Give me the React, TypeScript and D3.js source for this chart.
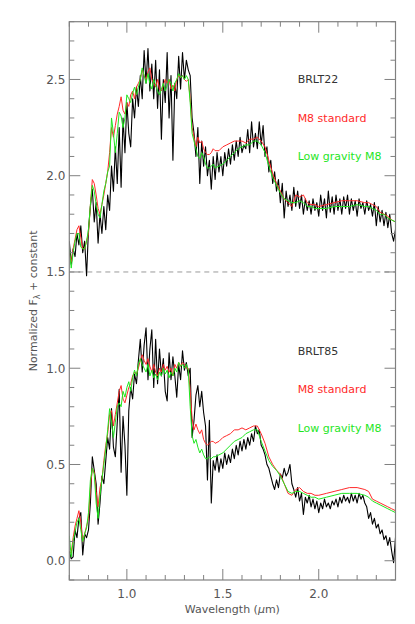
import React from "react";
import * as d3 from "d3";

// wavelength grids (microns)
const blackWave = d3.range(171).map((i) => +(0.7 + i * 0.01).toFixed(2));
const modelWave = [
  0.7, 0.71, 0.72, 0.73, 0.74, 0.75, 0.76, 0.77, 0.78, 0.79,
  0.8, 0.81, 0.82, 0.83, 0.84, 0.85, 0.86, 0.87, 0.88, 0.89,
  0.9, 0.91, 0.92, 0.93, 0.94, 0.95, 0.96, 0.97, 0.98, 0.99,
  1.0, 1.01, 1.02, 1.03, 1.04, 1.05, 1.06, 1.07, 1.08, 1.09,
  1.1, 1.11, 1.12, 1.13, 1.14, 1.15, 1.16, 1.17, 1.18, 1.19,
  1.2, 1.21, 1.22, 1.23, 1.24, 1.25, 1.26, 1.27, 1.28, 1.29,
  1.3, 1.31, 1.32, 1.33, 1.34, 1.35, 1.36, 1.37, 1.38, 1.39,
  1.4, 1.41, 1.42, 1.43, 1.44, 1.45, 1.46,
  1.48, 1.5, 1.52, 1.54, 1.56, 1.58, 1.6, 1.62, 1.64, 1.66, 1.68, 1.7, 1.72, 1.74,
  1.76, 1.78, 1.8, 1.82, 1.84, 1.86, 1.88, 1.9, 1.92, 1.94, 1.96, 1.98, 2.0,
  2.04, 2.08, 2.12, 2.16, 2.2, 2.24,
  2.26, 2.28, 2.3, 2.32, 2.34, 2.36, 2.38, 2.4,
];

// BRLT22 (top, +1.5)
const brlt22 = [
  1.66, 1.54, 1.62, 1.58, 1.7, 1.64, 1.74, 1.6, 1.66, 1.48,
  1.72, 1.84, 1.93, 1.76, 1.86, 1.65, 1.8, 1.7, 1.84, 1.72,
  1.9, 1.82, 2.05, 1.92, 2.15, 1.96, 2.25, 1.94, 2.3, 2.12,
  2.38, 2.22, 2.15, 2.4, 2.3, 2.46, 2.36, 2.52, 2.4, 2.65,
  2.48, 2.66, 2.44, 2.58, 2.4, 2.6, 2.35, 2.55, 2.19, 2.5,
  2.38, 2.64, 2.3, 2.52, 2.08, 2.48, 2.4, 2.62, 2.45, 2.64,
  2.5, 2.6, 2.55, 2.52, 2.3, 2.22, 2.1, 2.25, 1.96, 2.18,
  2.05, 2.15, 2.0, 2.08, 1.93, 2.1, 1.98, 2.12, 2.02, 2.1,
  2.0, 2.12, 2.05, 2.14, 2.06, 2.16, 2.08, 2.18, 2.1, 2.2,
  2.12, 2.16, 2.14, 2.24, 2.12, 2.28, 2.15, 2.22, 2.14, 2.28,
  2.16, 2.26, 2.1, 2.15, 2.02, 2.08, 1.96, 2.02, 1.92, 1.98,
  1.86, 1.96, 1.78, 1.92, 1.84, 1.9, 1.82, 1.94, 1.84, 1.92,
  1.83, 1.9, 1.8, 1.88, 1.82, 1.87, 1.8, 1.88, 1.82, 1.86,
  1.79, 1.9, 1.82, 1.88, 1.78, 1.92, 1.81, 1.89, 1.8, 1.9,
  1.82, 1.88, 1.8, 1.89, 1.83, 1.9, 1.8, 1.88, 1.82, 1.87,
  1.79, 1.88, 1.83, 1.86, 1.8, 1.87, 1.82, 1.85, 1.79, 1.86,
  1.74, 1.84, 1.76, 1.82, 1.74, 1.81, 1.73, 1.8, 1.7, 1.66,
  1.72,
];
const stdTop = [
  1.6, 1.55, 1.62, 1.67, 1.72, 1.74, 1.68, 1.62, 1.62, 1.66,
  1.7, 1.85, 1.98, 1.96, 1.9, 1.83, 1.8, 1.85, 1.9, 1.96,
  2.02, 2.12, 2.25, 2.2, 2.26, 2.32, 2.36, 2.41, 2.34, 2.32,
  2.38, 2.36, 2.42, 2.44, 2.4, 2.46, 2.48, 2.5, 2.55, 2.52,
  2.5, 2.54, 2.56, 2.5, 2.48, 2.46, 2.5, 2.45, 2.44, 2.47,
  2.5, 2.48, 2.5, 2.45, 2.47, 2.44, 2.5, 2.52, 2.51, 2.52,
  2.5, 2.49, 2.5, 2.4, 2.25, 2.2, 2.15, 2.2, 2.17, 2.18,
  2.14, 2.12, 2.11, 2.11, 2.12, 2.14, 2.13,
  2.13, 2.15, 2.16, 2.17, 2.18, 2.18, 2.18, 2.17, 2.19, 2.19, 2.2, 2.18, 2.15, 2.08,
  2.01, 1.96, 1.92, 1.88, 1.86, 1.84, 1.9, 1.89, 1.9, 1.86, 1.85, 1.85, 1.84,
  1.85, 1.86, 1.87, 1.87, 1.87, 1.86,
  1.86, 1.85, 1.84, 1.81, 1.8, 1.79, 1.77, 1.76,
];
const lowgTop = [
  1.62, 1.52, 1.6, 1.66, 1.7, 1.7, 1.63, 1.62, 1.62, 1.66,
  1.72, 1.85, 1.95, 1.92, 1.85, 1.8, 1.78, 1.85, 1.92, 1.96,
  2.02, 2.05, 2.3, 2.22, 2.12, 2.22, 2.33, 2.31, 2.25, 2.3,
  2.42, 2.4, 2.38, 2.43, 2.46, 2.42, 2.46, 2.5, 2.56, 2.52,
  2.48, 2.53, 2.48, 2.45, 2.5, 2.47, 2.44, 2.42, 2.45, 2.48,
  2.44, 2.47, 2.5, 2.48, 2.44, 2.48, 2.5, 2.53, 2.51, 2.52,
  2.5, 2.52, 2.5, 2.38, 2.22, 2.18, 2.14, 2.1, 2.09, 2.12,
  2.1, 2.06, 2.04, 2.04, 2.05, 2.06, 2.04,
  2.05, 2.06, 2.08, 2.1, 2.12, 2.14, 2.15, 2.16, 2.16, 2.18, 2.18, 2.16, 2.12, 2.05,
  1.99, 1.95, 1.91, 1.88, 1.87, 1.86, 1.86, 1.87, 1.86, 1.84, 1.84, 1.83, 1.83,
  1.83, 1.84, 1.84, 1.84, 1.85, 1.84,
  1.84, 1.83, 1.82, 1.8, 1.8, 1.78, 1.77, 1.76,
];

// BRLT85 (bottom)
const brlt85 = [
  0.05, 0.01, 0.02, 0.16, 0.12, 0.22, 0.25, 0.03, 0.14, 0.12,
  0.16, 0.3, 0.54, 0.47, 0.4, 0.19, 0.3, 0.44, 0.4, 0.52,
  0.64, 0.58, 0.79, 0.59, 0.54, 0.72, 0.89, 0.46, 0.75, 0.6,
  0.34, 0.78, 0.9, 0.84, 0.97, 0.92, 1.04, 1.15, 0.98, 1.12,
  1.21, 0.94, 1.1, 1.2, 0.9, 1.15, 0.92, 1.1, 0.96, 1.05,
  0.88, 0.83, 1.08, 0.94, 1.06, 0.96, 0.85, 1.02, 0.94, 1.09,
  0.99, 1.03, 0.96, 1.0, 0.64, 0.73, 0.86, 0.91, 0.8, 0.88,
  0.77, 0.7, 0.42, 0.73, 0.3, 0.52, 0.47, 0.55, 0.46, 0.53,
  0.48, 0.56, 0.5, 0.55, 0.51, 0.58, 0.53, 0.6, 0.55, 0.62,
  0.57, 0.63, 0.58, 0.64, 0.6, 0.66, 0.62, 0.7, 0.66, 0.68,
  0.6, 0.58, 0.55, 0.5, 0.48, 0.44, 0.4, 0.37, 0.42, 0.38,
  0.45, 0.43, 0.48, 0.44, 0.46, 0.5, 0.4, 0.37, 0.33, 0.38,
  0.31, 0.35, 0.24, 0.33, 0.3, 0.34, 0.28, 0.32, 0.27, 0.31,
  0.25, 0.3, 0.27, 0.32, 0.28, 0.3, 0.27, 0.31, 0.29, 0.32,
  0.28, 0.33, 0.3, 0.34, 0.31, 0.33, 0.3, 0.35, 0.31, 0.34,
  0.3, 0.35, 0.32, 0.34, 0.3, 0.28, 0.22, 0.25, 0.19, 0.22,
  0.17, 0.19, 0.14, 0.16, 0.11, 0.13, 0.08, 0.12, 0.05, -0.01,
  0.12,
];
const stdBottom = [
  0.05, 0.04, 0.12, 0.18, 0.22, 0.26, 0.2, 0.1, 0.14, 0.18,
  0.22, 0.38, 0.48, 0.46, 0.36, 0.28, 0.38, 0.42, 0.52, 0.6,
  0.66, 0.76, 0.78, 0.7, 0.76, 0.82, 0.88, 0.91, 0.84, 0.82,
  0.86, 0.9, 0.92, 0.96, 0.98, 0.97, 1.0, 1.04, 1.07, 1.04,
  1.02, 1.05, 1.01, 0.98, 1.02, 0.98, 0.96, 1.0, 0.98, 1.02,
  0.99, 1.01, 0.98, 1.0, 0.96, 1.02, 1.0, 1.03, 1.01, 1.03,
  1.02, 1.0, 1.0, 0.88, 0.74, 0.68, 0.71, 0.68, 0.66, 0.68,
  0.63, 0.61, 0.6, 0.61, 0.62, 0.62, 0.61,
  0.62, 0.64, 0.65, 0.66, 0.68, 0.68, 0.69, 0.68, 0.69, 0.7, 0.7, 0.66, 0.61, 0.54,
  0.5, 0.47, 0.45, 0.4, 0.35, 0.34, 0.37, 0.38, 0.36, 0.35, 0.35, 0.34, 0.34,
  0.35, 0.36, 0.37, 0.38, 0.38, 0.37,
  0.36, 0.32, 0.31, 0.3, 0.29, 0.28, 0.27, 0.26,
];
const lowgBottom = [
  0.13, 0.02, 0.1, 0.15, 0.2, 0.22, 0.16, 0.1, 0.14, 0.17,
  0.25, 0.42, 0.48, 0.45, 0.3, 0.22, 0.34, 0.42, 0.5, 0.58,
  0.68, 0.79, 0.72, 0.64, 0.72, 0.8, 0.82, 0.8, 0.88, 0.85,
  0.9, 0.93, 0.88, 0.95, 0.99, 0.96, 1.02, 1.05, 1.02, 1.0,
  0.98, 1.02, 0.96, 0.99, 0.95, 0.97, 0.94, 0.98, 0.96, 1.0,
  0.97, 0.99, 0.95, 0.98, 0.96, 1.0, 0.98, 1.03, 1.01, 1.02,
  1.0, 1.02, 0.99, 0.8, 0.65, 0.61, 0.63, 0.59, 0.56, 0.58,
  0.55, 0.53, 0.53, 0.54, 0.53, 0.54, 0.54,
  0.55, 0.56, 0.58, 0.6, 0.62, 0.63, 0.64, 0.66, 0.67, 0.68, 0.68, 0.62, 0.57, 0.52,
  0.49, 0.47, 0.44, 0.4, 0.36, 0.35, 0.36, 0.36, 0.35, 0.34, 0.33, 0.33, 0.32,
  0.33, 0.34, 0.35, 0.35, 0.35, 0.34,
  0.33, 0.31, 0.3, 0.29, 0.28, 0.27, 0.26, 0.25,
];

const xMajor = [1.0, 1.5, 2.0];
const xMajorLabels = ["1.0", "1.5", "2.0"];
const yMajor = [0.0, 0.5, 1.0, 1.5, 2.0, 2.5];
const yMajorLabels = ["0.0", "0.5", "1.0", "1.5", "2.0", "2.5"];
const baselineLevel = 1.5;

const legendTop = ["BRLT22", "M8 standard", "Low gravity M8"];
const legendBottom = ["BRLT85", "M8 standard", "Low gravity M8"];

const width = 415;
const height = 624;
const axisColor = "#808080";
const textColor = "#555";
const colors = ["#000000", "#ff2a2a", "#1ee61e"];
const font = "DejaVu Sans, sans-serif";

export default function App() {
  const x = d3.scaleLinear().domain([0.7, 2.4]).range([69.3, 395.5]);
  const y = d3.scaleLinear().domain([-0.1, 2.8]).range([580, 21.7]);
  const [x0, x1] = x.range();
  const [y0, y1] = y.range();

  const xMinor = d3.range(7, 25).map((d) => d / 10).filter((d) => !xMajor.some((m) => Math.abs(m - d) < 1e-6));
  const yMinor = d3.range(-1, 29).map((d) => d / 10).filter((d) => !yMajor.some((m) => Math.abs(m - d) < 1e-6));

  const lineOn = (wave: number[]) =>
    d3
      .line<number>()
      .x((_, i) => x(wave[i]))
      .y((d) => y(d));

  const series = [
    { wave: blackWave, data: brlt22, color: colors[0] },
    { wave: modelWave, data: stdTop, color: colors[1] },
    { wave: modelWave, data: lowgTop, color: colors[2] },
    { wave: blackWave, data: brlt85, color: colors[0] },
    { wave: modelWave, data: stdBottom, color: colors[1] },
    { wave: modelWave, data: lowgBottom, color: colors[2] },
  ];

  const legendX = x(1.89);
  const topLegendY = [2.5, 2.3, 2.1].map((v) => y(v));
  const bottomLegendY = [1.09, 0.89, 0.69].map((v) => y(v));

  return (
    <svg
      width={width}
      height={height}
      style={{ position: "absolute", left: 0, top: 0, background: "#fff" }}
      fontFamily={font}
    >
      <defs>
        <clipPath id="plot-clip">
          <rect x={x0} y={y1} width={x1 - x0} height={y0 - y1} />
        </clipPath>
      </defs>

      {/* dashed zero level of upper spectrum */}
      <line
        x1={x0}
        x2={x1}
        y1={y(baselineLevel)}
        y2={y(baselineLevel)}
        stroke="#999"
        strokeDasharray="5,4"
      />

      <g clipPath="url(#plot-clip)" fill="none">
        {series.map((s, i) => (
          <path
            key={i}
            d={lineOn(s.wave)(s.data) || ""}
            stroke={s.color}
            strokeWidth={s.color === colors[0] ? 1.1 : 1}
            strokeLinejoin="round"
          />
        ))}
      </g>

      {/* frame */}
      <rect x={x0} y={y1} width={x1 - x0} height={y0 - y1} fill="none" stroke={axisColor} strokeWidth={1.2} />

      {/* x ticks, bottom and top */}
      <g stroke={axisColor}>
        {xMajor.map((d) => (
          <g key={"xm" + d}>
            <line x1={x(d)} x2={x(d)} y1={y0} y2={y0 - 11} />
            <line x1={x(d)} x2={x(d)} y1={y1} y2={y1 + 11} />
          </g>
        ))}
        {xMinor.map((d) => (
          <g key={"xn" + d}>
            <line x1={x(d)} x2={x(d)} y1={y0} y2={y0 - 5} />
            <line x1={x(d)} x2={x(d)} y1={y1} y2={y1 + 5} />
          </g>
        ))}
        {yMajor.map((d) => (
          <g key={"ym" + d}>
            <line x1={x0} x2={x0 + 11} y1={y(d)} y2={y(d)} />
            <line x1={x1} x2={x1 - 11} y1={y(d)} y2={y(d)} />
          </g>
        ))}
        {yMinor.map((d) => (
          <g key={"yn" + d}>
            <line x1={x0} x2={x0 + 5} y1={y(d)} y2={y(d)} />
            <line x1={x1} x2={x1 - 5} y1={y(d)} y2={y(d)} />
          </g>
        ))}
      </g>

      {/* tick labels */}
      <g fill={textColor} fontSize={12}>
        {xMajor.map((d, i) => (
          <text key={"xl" + d} x={x(d)} y={y0 + 18} textAnchor="middle">
            {xMajorLabels[i]}
          </text>
        ))}
        {yMajor.map((d, i) => (
          <text key={"yl" + d} x={x0 - 4} y={y(d) + 4.5} textAnchor="end">
            {yMajorLabels[i]}
          </text>
        ))}
      </g>

      {/* axis titles */}
      <text x={(x0 + x1) / 2} y={y0 + 33} textAnchor="middle" fontSize={11} fill={textColor}>
        Wavelength (<tspan fontStyle="italic">μ</tspan>m)
      </text>
      <text
        transform={`translate(37,${(y0 + y1) / 2}) rotate(-90)`}
        textAnchor="middle"
        fontSize={11}
        fill={textColor}
      >
        Normalized F<tspan fontSize={8} dy={3}>λ</tspan>
        <tspan dy={-3}> + constant</tspan>
      </text>

      {/* legends */}
      <g fontSize={11}>
        {legendTop.map((t, i) => (
          <text key={"lt" + i} x={legendX} y={topLegendY[i] + 4} fill={i === 0 ? "#333" : colors[i]}>
            {t}
          </text>
        ))}
        {legendBottom.map((t, i) => (
          <text key={"lb" + i} x={legendX} y={bottomLegendY[i] + 4} fill={i === 0 ? "#333" : colors[i]}>
            {t}
          </text>
        ))}
      </g>
    </svg>
  );
}
